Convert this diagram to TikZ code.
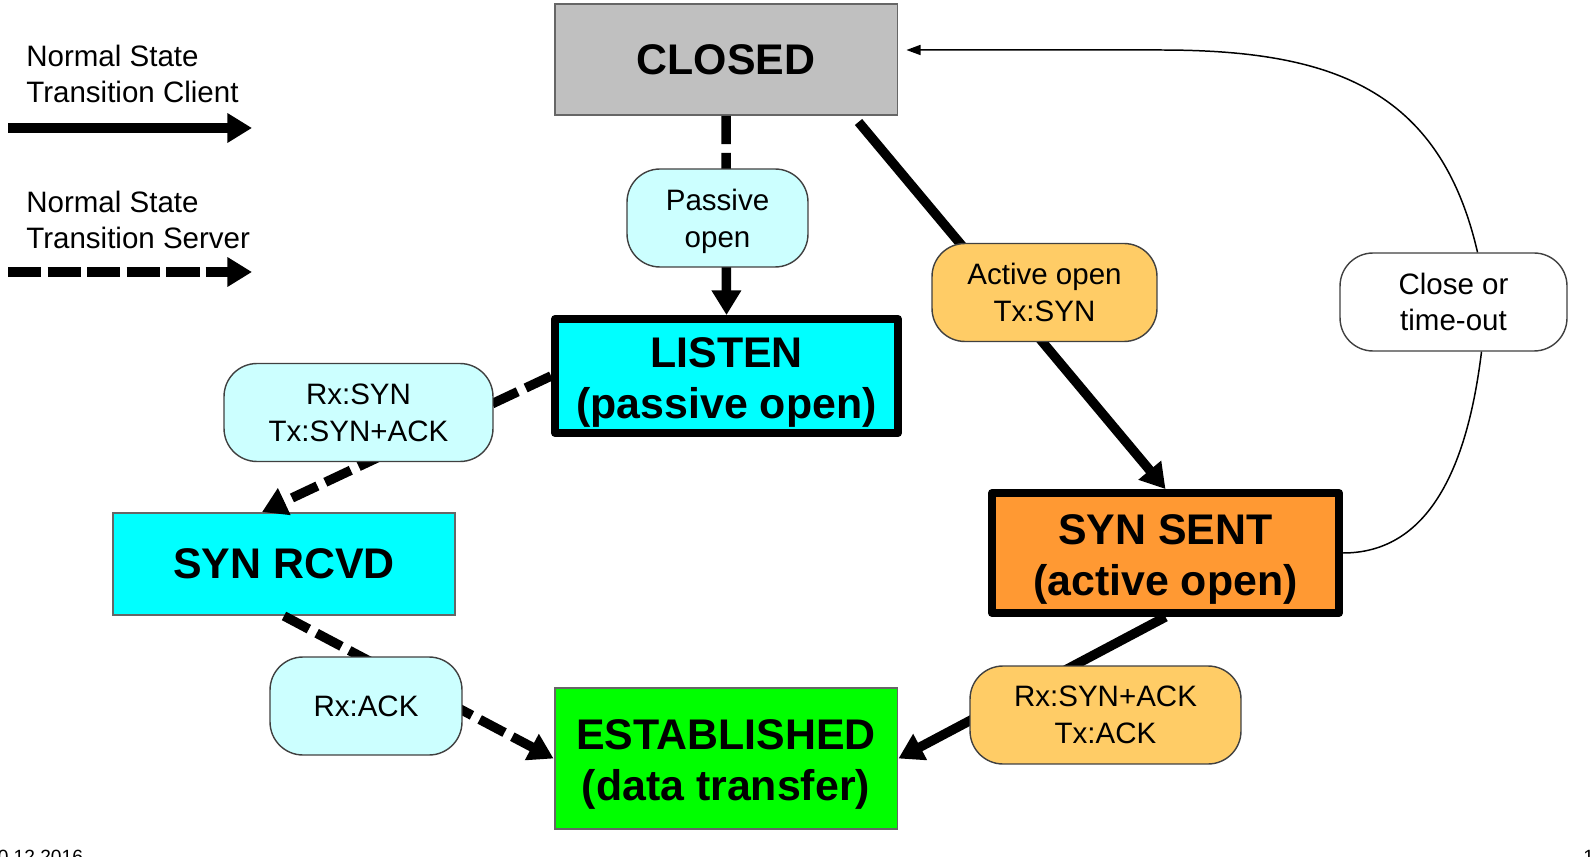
\documentclass[tikz,border=0pt]{standalone}
\usepackage{fontspec}
\setmainfont{Liberation Sans}
\usetikzlibrary{calc, positioning}
\usetikzlibrary{arrows.meta}

\definecolor{closedgray}{HTML}{C0C0C0}
\definecolor{stcyan}{HTML}{00FFFF}
\definecolor{storange}{HTML}{FF9933}
\definecolor{stgreen}{HTML}{00FF00}
\definecolor{lblcyan}{HTML}{CCFFFF}
\definecolor{lblorange}{HTML}{FFCC66}

\newcommand{\statefont}{\fontsize{24.4}{28.9}\selectfont\bfseries}
\newcommand{\lblfont}{\fontsize{16.8}{21}\selectfont}
\newcommand{\tallstrut}{\rule{0pt}{24pt}}

\tikzset{
  stbox/.style={draw=black!60, line width=1.1pt, inner sep=0pt, align=center,
    font=\statefont, minimum width=6.86cm},
  stboxthick/.style={stbox, draw=black, line width=4.5pt, line join=round},
  lbl/.style={draw=black!75, line width=0.8pt, rounded corners=0.66cm,
    inner sep=0pt, align=center, font=\lblfont, minimum height=1.96cm},
  client/.style={line width=5.4pt, -{Triangle[length=14pt,width=16pt]}},
  server/.style={client, dash pattern=on 16pt off 5pt},
  timeout/.style={line width=0.85pt, -{Triangle[length=8pt,width=5.7pt]}},
}

\begin{document}
\begin{tikzpicture}[x=0.02cm, y=0.02cm]
\useasboundingbox (0,0) rectangle (1594,856);

\coordinate (CliStart) at (8,728);
\coordinate (CliEnd) at (252,728);
\coordinate (SrvStart) at (8,584);
\coordinate (SrvEnd) at (252,584);
\coordinate (TopBend) at (1160,806);

% legend
\node[anchor=base west, align=left, font=\lblfont, inner sep=0pt] (cliText) at (26,753)
    {Normal State\\Transition Client};
\node[anchor=base west, align=left, font=\lblfont, inner sep=0pt] (srvText) at (26,607)
    {Normal State\\Transition Server};
\draw[client] (CliStart) -- (CliEnd);
\draw[server, dash pattern=on 19pt off 3.5pt] (SrvStart) -- (SrvEnd);

% states
\node[stbox, fill=closedgray, minimum height=2.22cm] (closed) at (726,796.5) {CLOSED};
\node[stboxthick, fill=stcyan, minimum height=2.28cm] (listen) at (726.5,480)
    {\tallstrut LISTEN\\(passive open)};
\node[stbox, fill=stcyan, minimum width=6.84cm, minimum height=2.04cm] (synrcvd) at (284,292)
    {SYN RCVD};
\node[stboxthick, fill=storange, minimum width=6.94cm, minimum height=2.4cm] (synsent) at (1165.5,303)
    {\tallstrut SYN SENT\\(active open)};
\node[stbox, fill=stgreen, minimum height=2.82cm] (estab) at (726,97.5)
    {\tallstrut ESTABLISHED\\(data transfer)};
\node[lbl, fill=white, minimum width=4.54cm] (closeto) at (1453.5,554) {Close or\\time-out};

% transitions
\draw[server] (closed.south) -- (listen.north);
\draw[client, shorten <=4.5pt] ($(closed.south east)+(-45,0)$) -- (synsent.north);
\draw[server] (listen.west) -- ($(synrcvd.north)+(-22,0)$);
\draw[server] (synrcvd.south) -- (estab.west);
\draw[client] (synsent.south) -- (estab.east);
\draw[line width=0.85pt] (synsent.east) to[out=0, in=-97] ($(closeto.south)+(28,0)$);
\draw[timeout] ($(closeto.north)+(24,0)$) to[out=103, in=0, looseness=1.15] (TopBend)
    -- ($(closed.east)+(8,9.5)$);

% labels
\node[lbl, fill=lblcyan, minimum width=3.62cm] (passive) at (717.5,638) {\rule{0pt}{16pt}Passive\\open};
\node[lbl, fill=lblorange, minimum width=4.5cm] (active) at (1044.5,563.5) {Active open\\Tx:SYN};
\node[lbl, fill=lblcyan, minimum width=5.38cm] (rxsyn) at (358.5,443.5) {Rx:SYN\\Tx:SYN+ACK};
\node[lbl, fill=lblcyan, minimum width=3.84cm] (rxack) at (366,150) {Rx:ACK};
\node[lbl, fill=lblorange, minimum width=5.42cm] (rxsynack) at (1105.5,141) {Rx:SYN+ACK\\Tx:ACK};

% footer
\node[anchor=base west, font=\fontsize{10.9}{13}\selectfont, inner sep=0pt] (date) at (-2.6,-7) {0.12.2016};
\node[anchor=base west, font=\fontsize{10.9}{13}\selectfont, inner sep=0pt] (pagenum) at (1583,-7) {1};
\end{tikzpicture}
\end{document}
